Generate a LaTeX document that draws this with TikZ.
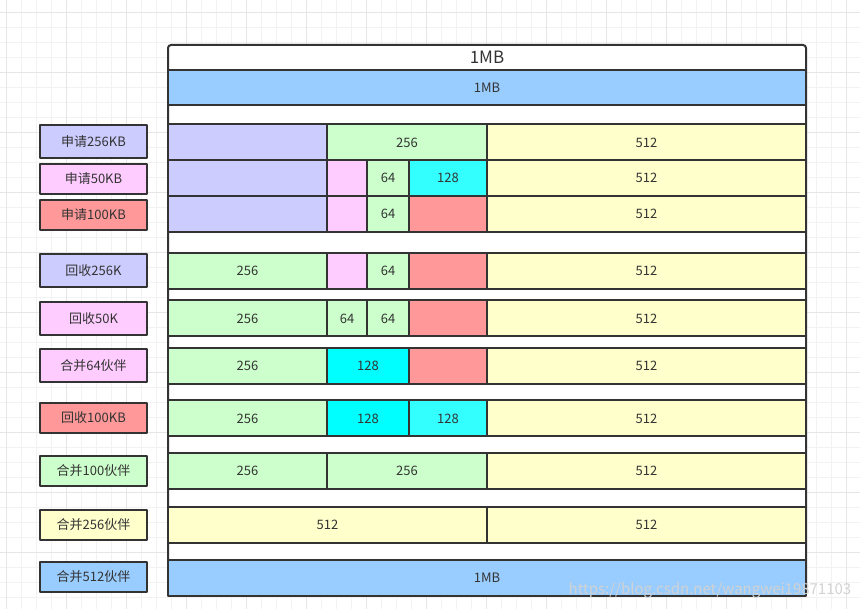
\documentclass[tikz,border=0pt]{standalone}
\usepackage{fontspec}
\setmainfont{Noto Sans CJK SC}
\definecolor{lineC}{HTML}{333333}
\definecolor{blueC}{HTML}{99CCFF}
\definecolor{lavC}{HTML}{CCCCFF}
\definecolor{greenC}{HTML}{CCFFCC}
\definecolor{yellowC}{HTML}{FFFFCC}
\definecolor{pinkC}{HTML}{FFCCFF}
\definecolor{redC}{HTML}{FF9999}
\definecolor{cyanC}{HTML}{33FFFF}
\definecolor{aquaC}{HTML}{00FFFF}
\definecolor{gridminor}{HTML}{F2F2F2}
\definecolor{gridmajor}{HTML}{E6E6E6}

\begin{document}
\begin{tikzpicture}[
    x = 1pt, y = -1pt,
    line join=round,
    font = \fontsize{13}{15}\selectfont,
    cellstyle/.style = {draw=lineC, line width=2pt, text=lineC, anchor=north west, inner sep=0pt, outer sep=0pt, minimum height=36pt},
    labelstyle/.style = {draw=lineC, line width=2pt, text=lineC, inner sep=0pt, minimum width=107pt, minimum height=30pt}
]

\useasboundingbox (0,0) rectangle (860,609);

\begin{scope}[shift={(6.7,12.7)}]
\clip (-6.7,596.3) rectangle (853.3,-12.7);
\draw[gridminor, line width=1pt, step=15pt] (-15,600) grid (860,-15);
\draw[gridmajor, line width=1pt, step=60pt] (-60,600) grid (860,-60);
\end{scope}

\draw[lineC, line width=2pt, fill=white, rounded corners=3pt] (168,45) rectangle (806,595);
\node[text=lineC, font=\fontsize{17}{20}\selectfont] (title) at (487,57.5) {1MB};

\node[cellstyle, fill=blueC, minimum width=638pt, minimum height=35pt] (r0) at (168,70) {1MB};

\node[cellstyle, fill=lavC, minimum width=159pt] (r1a) at (168,124.5) {};
\node[cellstyle, fill=greenC, minimum width=160pt] (r1b) at (327,124.5) {256};
\node[cellstyle, fill=yellowC, minimum width=319pt] (r1c) at (487,124.5) {512};

\node[cellstyle, fill=lavC, minimum width=159pt] (r2a) at (168,160) {};
\node[cellstyle, fill=pinkC, minimum width=40pt] (r2b) at (327,160) {};
\node[cellstyle, fill=greenC, minimum width=42pt] (r2c) at (367,160) {64};
\node[cellstyle, fill=cyanC, minimum width=78pt] (r2d) at (409,160) {128};
\node[cellstyle, fill=yellowC, minimum width=319pt] (r2e) at (487,160) {512};

\node[cellstyle, fill=lavC, minimum width=159pt] (r3a) at (168,196) {};
\node[cellstyle, fill=pinkC, minimum width=40pt] (r3b) at (327,196) {};
\node[cellstyle, fill=greenC, minimum width=42pt] (r3c) at (367,196) {64};
\node[cellstyle, fill=redC, minimum width=78pt] (r3d) at (409,196) {};
\node[cellstyle, fill=yellowC, minimum width=319pt] (r3e) at (487,196) {512};

\node[cellstyle, fill=greenC, minimum width=159pt] (r4a) at (168,253) {256};
\node[cellstyle, fill=pinkC, minimum width=40pt] (r4b) at (327,253) {};
\node[cellstyle, fill=greenC, minimum width=42pt] (r4c) at (367,253) {64};
\node[cellstyle, fill=redC, minimum width=78pt] (r4d) at (409,253) {};
\node[cellstyle, fill=yellowC, minimum width=319pt] (r4e) at (487,253) {512};

\node[cellstyle, fill=greenC, minimum width=159pt] (r5a) at (168,300.5) {256};
\node[cellstyle, fill=greenC, minimum width=40pt] (r5b) at (327,300.5) {64};
\node[cellstyle, fill=greenC, minimum width=42pt] (r5c) at (367,300.5) {64};
\node[cellstyle, fill=redC, minimum width=78pt] (r5d) at (409,300.5) {};
\node[cellstyle, fill=yellowC, minimum width=319pt] (r5e) at (487,300.5) {512};

\node[cellstyle, fill=greenC, minimum width=159pt] (r6a) at (168,348) {256};
\node[cellstyle, fill=aquaC, minimum width=82pt] (r6b) at (327,348) {128};
\node[cellstyle, fill=redC, minimum width=78pt] (r6c) at (409,348) {};
\node[cellstyle, fill=yellowC, minimum width=319pt] (r6d) at (487,348) {512};

\node[cellstyle, fill=greenC, minimum width=159pt] (r7a) at (168,400.5) {256};
\node[cellstyle, fill=aquaC, minimum width=82pt] (r7b) at (327,400.5) {128};
\node[cellstyle, fill=cyanC, minimum width=78pt] (r7c) at (409,400.5) {128};
\node[cellstyle, fill=yellowC, minimum width=319pt] (r7d) at (487,400.5) {512};

\node[cellstyle, fill=greenC, minimum width=159pt] (r8a) at (168,453) {256};
\node[cellstyle, fill=greenC, minimum width=160pt] (r8b) at (327,453) {256};
\node[cellstyle, fill=yellowC, minimum width=319pt] (r8c) at (487,453) {512};

\node[cellstyle, fill=yellowC, minimum width=319pt] (r9a) at (168,507) {512};
\node[cellstyle, fill=yellowC, minimum width=319pt] (r9b) at (487,507) {512};

\node[cellstyle, fill=blueC, minimum width=638pt] (r10) at (168,559.5) {1MB};

\node[labelstyle, fill=lavC, minimum height=33pt] (l1) at (93.5,141.5) {申请256KB};
\node[labelstyle, fill=pinkC] (l2) at (93.5,179) {申请50KB};
\node[labelstyle, fill=redC] (l3) at (93.5,215) {申请100KB};
\node[labelstyle, fill=lavC, minimum height=33pt] (l4) at (93.5,270.5) {回收256K};
\node[labelstyle, fill=pinkC, minimum height=33pt] (l5) at (93.5,318.5) {回收50K};
\node[labelstyle, fill=pinkC, minimum height=33pt] (l6) at (93.5,365.5) {合并64伙伴};
\node[labelstyle, fill=redC] (l7) at (93.5,418) {回收100KB};
\node[labelstyle, fill=greenC] (l8) at (93.5,471) {合并100伙伴};
\node[labelstyle, fill=yellowC] (l9) at (93.5,525) {合并256伙伴};
\node[labelstyle, fill=blueC] (l10) at (93.5,577) {合并512伙伴};

\node[text=gray!35, font=\fontsize{15}{18}\selectfont] (mark) at (710,590) {https://blog.csdn.net/wangwei19871103};

\end{tikzpicture}
\end{document}
